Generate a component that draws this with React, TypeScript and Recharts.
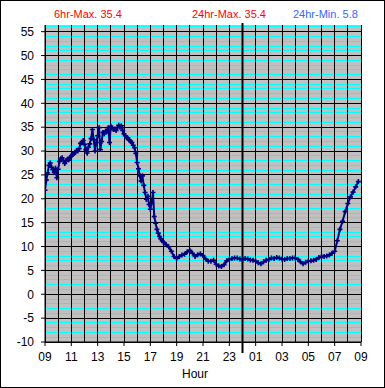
import React from "react";
import {
  LineChart,
  Line,
  XAxis,
  YAxis,
  CartesianGrid,
  ReferenceLine,
} from "recharts";

// ===== Temperature readings =====
// 09:00 -> 18:00, one reading every 6 minutes
const morningTemps = [
  21.8, 23.9, 25.4, 27.0, 27.5, 26.6, 26.1, 25.5, 26.4, 24.4,
  26.2, 27.8, 28.4, 28.6, 28.0, 27.4, 27.9, 28.3, 28.1, 28.7,
  28.9, 29.3, 29.5, 29.7, 30.1, 30.0, 30.5, 31.6, 31.8, 32.2,
  31.4, 30.3, 29.6, 30.8, 31.5, 32.6, 34.5, 32.4, 30.0, 31.8,
  33.2, 34.9, 30.3, 32.0, 33.9, 33.6, 34.2, 34.1, 34.9, 31.8,
  35.2, 34.8, 34.5, 34.6, 34.3, 34.9, 35.4, 35.0, 35.3, 34.3,
  33.6, 33.2, 32.8, 32.7, 32.3, 32.0, 31.8, 31.2, 30.7, 29.5,
  27.6, 26.3, 24.8, 23.7, 24.8, 22.8, 21.3, 19.9, 20.5, 18.8,
  17.8, 19.2, 21.3, 16.3, 14.9, 13.6, 12.8, 12.1, 11.6, 11.2,
  10.9,
];
// 18:12 -> 08:48, one reading every 12 minutes
const laterTemps = [
  10.4, 9.9, 9.0, 7.9,
  7.5, 7.9, 8.2, 8.4, 8.9,
  9.2, 8.6, 7.9, 8.3, 8.5,
  8.1, 7.4, 6.9, 6.9, 7.1,
  6.3, 5.9, 5.8, 6.2, 7.0,
  7.3, 7.5, 7.6, 7.6, 7.4,
  7.3, 7.5, 7.4, 7.2, 7.1,
  6.9, 6.6, 6.4, 6.8, 7.1,
  7.3, 7.6, 7.5, 7.7, 7.6,
  7.4, 7.3, 7.5, 7.5, 7.6,
  7.6, 7.3, 6.8, 6.4, 6.7,
  6.9, 7.0, 7.1, 7.3, 7.7,
  7.9, 7.9, 8.0, 8.2, 8.6,
  9.0, 11.2, 13.6, 15.3, 17.3,
  19.0, 20.4, 21.4, 22.5, 23.6,
];

const hourLabels = ["09", "11", "13", "15", "17", "19", "21", "23", "01", "03", "05", "07", "09"];
const yTicks = [-10, -5, 0, 5, 10, 15, 20, 25, 30, 35, 40, 45, 50, 55];
const summaryTexts = [
  { text: "6hr-Max. 35.4", color: "#FF0000", left: 54 },
  { text: "24hr-Max. 35.4", color: "#FF0000", left: 192 },
  { text: "24hr-Min. 5.8", color: "#3366FF", left: 293 },
];

// hours since 09:00
const data = [
  ...morningTemps.map((t, i) => ({ h: i * 0.1, t })),
  ...laterTemps.map((t, i) => ({ h: 9.2 + i * 0.2, t })),
];

// grid line positions
const labelHours = hourLabels.map((_, i) => i * 2);
const hourLines = Array.from({ length: 25 }, (_, i) => i);
const minorLines = Array.from({ length: 67 }, (_, i) => i - 10).filter((v) => v % 5 !== 0);

const FONT = "'Liberation Sans', Arial, sans-serif";

// small "+" marker like the original
const PlusDot = (props: any) => {
  const { cx, cy, index } = props;
  if (cx == null || cy == null) return null;
  return (
    <path
      key={`dot-${index}`}
      d={`M${cx - 2.5},${cy}H${cx + 2.5}M${cx},${cy - 2.5}V${cy + 2.5}`}
      stroke="#000080"
      strokeWidth={1.6}
      fill="none"
    />
  );
};

export default function App() {
  return (
    <div style={{ position: "absolute", left: 0, top: 0, width: 385, height: 388, background: "#fff", fontFamily: FONT }}>
      <LineChart width={385} height={388} data={data} margin={{ top: 25, right: 24, bottom: 0, left: 0 }}>
        {/* cyan minor lines on grey */}
        <CartesianGrid
          fill="#C0C0C0"
          fillOpacity={1}
          stroke="#00FFFF"
          strokeWidth={1}
          shapeRendering="crispEdges"
          vertical={false}
          horizontalValues={minorLines}
        />
        {/* black major lines */}
        <CartesianGrid
          stroke="#000000"
          strokeWidth={1}
          shapeRendering="crispEdges"
          horizontalValues={yTicks}
          verticalValues={hourLines}
        />
        <XAxis
          dataKey="h"
          type="number"
          domain={[0, 24]}
          ticks={labelHours}
          interval={0}
          allowDataOverflow
          tickFormatter={(v: number) => hourLabels[Math.round(v / 2)]}
          height={46}
          tickSize={4}
          tickMargin={6}
          axisLine={{ stroke: "#000" }}
          tickLine={{ stroke: "#000" }}
          tick={{ fill: "#000", fontSize: 12, fontFamily: FONT }}
        />
        <YAxis
          type="number"
          domain={[-10, 56.4]}
          ticks={yTicks}
          interval={0}
          allowDataOverflow
          width={45}
          tickSize={4}
          tickMargin={7}
          axisLine={{ stroke: "#000" }}
          tickLine={{ stroke: "#000" }}
          tick={{ fill: "#000", fontSize: 12, fontFamily: FONT }}
        />
        <ReferenceLine
          ifOverflow="visible"
          segment={[{ x: 15, y: -12.3 }, { x: 15, y: 56.8 }]}
          stroke="#000"
          strokeWidth={2}
        />
        <Line
          dataKey="t"
          type="linear"
          stroke="#000080"
          strokeWidth={2}
          dot={PlusDot}
          activeDot={false}
          isAnimationActive={false}
        />
      </LineChart>
      {summaryTexts.map((s) => (
        <div
          key={s.text}
          style={{ position: "absolute", left: s.left, top: 9, fontSize: 11, lineHeight: "11px", color: s.color, whiteSpace: "nowrap" }}
        >
          {s.text}
        </div>
      ))}
      <div style={{ position: "absolute", left: 0, width: 390, top: 368, fontSize: 12, lineHeight: "12px", textAlign: "center", color: "#000" }}>
        Hour
      </div>
      <div style={{ position: "absolute", left: 0, top: 0, width: 385, height: 388, boxSizing: "border-box", border: "1px solid #000", pointerEvents: "none" }} />
    </div>
  );
}
